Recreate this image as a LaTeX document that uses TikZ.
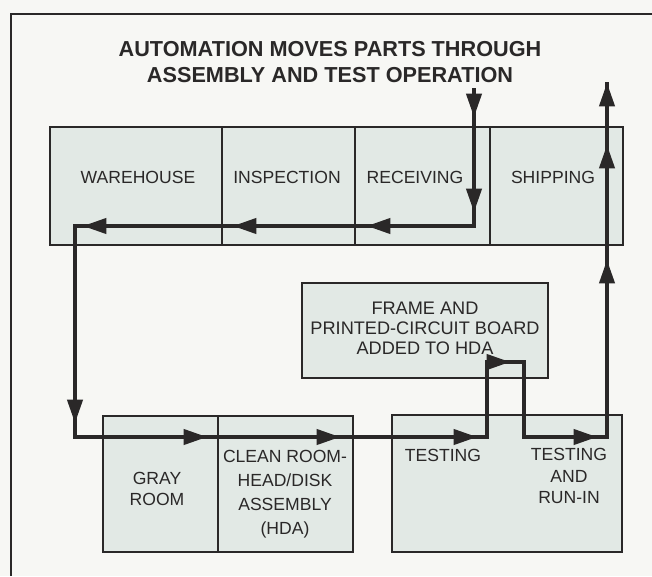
\documentclass[tikz,border=0pt]{standalone}
\usepackage{fontspec}
\setmainfont{Liberation Sans}
\usetikzlibrary{arrows.meta, decorations.markings}

\definecolor{ink}{RGB}{42,40,40}
\definecolor{roomfill}{RGB}{226,233,229}
\definecolor{paper}{RGB}{247,247,244}
\newcommand{\pxu}{0.03cm}

\begin{document}
\begin{tikzpicture}[x=0.03cm, y=-0.03cm, ink,
    room/.style={draw=ink, line width=1.6pt, fill=roomfill, inner sep=0pt},
    lbl/.style={text=ink, align=center, font=\fontsize{15}{18}\selectfont},
    flow/.style={draw=ink, line width=2.6pt, line join=miter},
    tipat/.style={postaction={decorate, decoration={markings,
        mark=at position #1*\pxu with {\arrow{Triangle[length=0.7cm, width=0.46cm]}}}}}]
  \fill[paper] (0,0) rectangle (652,576);
  \useasboundingbox (0,0) rectangle (652,576);
  % page frame, cut at right and bottom
  \draw[line width=1.4pt] (11,576) -- (11,14) -- (652,14);

  \node[font=\fontsize{18.5}{22}\selectfont\bfseries, align=center] (title) at (330,62)
    {AUTOMATION MOVES PARTS THROUGH\\ASSEMBLY AND TEST OPERATION};

  % upper row
  \node[room, minimum width=172*\pxu, minimum height=118*\pxu] (warehouse) at (136,186) {};
  \node[room, minimum width=133*\pxu, minimum height=118*\pxu] (inspection) at (288.5,186) {};
  \node[room, minimum width=135*\pxu, minimum height=118*\pxu] (receiving) at (422.5,186) {};
  \node[room, minimum width=133*\pxu, minimum height=118*\pxu] (shipping) at (556.5,186) {};
  \node[lbl] (warehouse-t) at (138,177) {WAREHOUSE};
  \node[lbl] (inspection-t) at (287,177) {INSPECTION};
  \node[lbl] (receiving-t) at (415,177) {RECEIVING};
  \node[lbl] (shipping-t) at (553,177) {SHIPPING};

  % frame and board station
  \node[room, minimum width=246*\pxu, minimum height=95*\pxu] (frame) at (425,330.5) {};
  \node[lbl, font=\fontsize{15.5}{17}\selectfont] (frame-t) at (425,328)
    {FRAME AND\\PRINTED-CIRCUIT BOARD\\ADDED TO HDA};

  % lower row
  \node[room, minimum width=115*\pxu, minimum height=136*\pxu] (gray) at (160.5,484) {};
  \node[room, minimum width=135*\pxu, minimum height=136*\pxu] (clean) at (285.5,484) {};
  \node[room, minimum width=230*\pxu, minimum height=137*\pxu] (test) at (507,483.5) {};
  \node[lbl] (gray-t) at (157,489) {GRAY\\ROOM};
  \node[lbl, font=\fontsize{15}{20.4}\selectfont] (clean-t) at (285,494)
    {CLEAN ROOM-\\HEAD/DISK\\ASSEMBLY\\(HDA)};
  \node[lbl] (test-t) at (443,455) {TESTING};
  \node[lbl] (runin-t) at (569,476) {TESTING\\AND\\RUN-IN};

  % route of the parts
  \coordinate (in) at (474,88);
  \coordinate (rcv) at (474,226);
  \coordinate (wh) at (75,226);
  \coordinate (gry) at (75,437);
  \coordinate (tst) at (487,437);
  \coordinate (hda-a) at (487,362);
  \coordinate (hda-b) at (524,362);
  \coordinate (hda-c) at (524,437);
  \coordinate (run) at (607,437);
  \coordinate (out) at (607,82);
  \draw[flow, tipat=29, tipat=124, tipat=245, tipat=379, tipat=529, tipat=734,
        tipat=880, tipat=1013, tipat=1150, tipat=1258, tipat=1420,
        tipat=1607, tipat=1722, tipat=1784]
    (in) -- (rcv) -- (wh) -- (gry) -- (tst) -- (hda-a) -- (hda-b) -- (hda-c)
    -- (run) -- (out);
\end{tikzpicture}
\end{document}
